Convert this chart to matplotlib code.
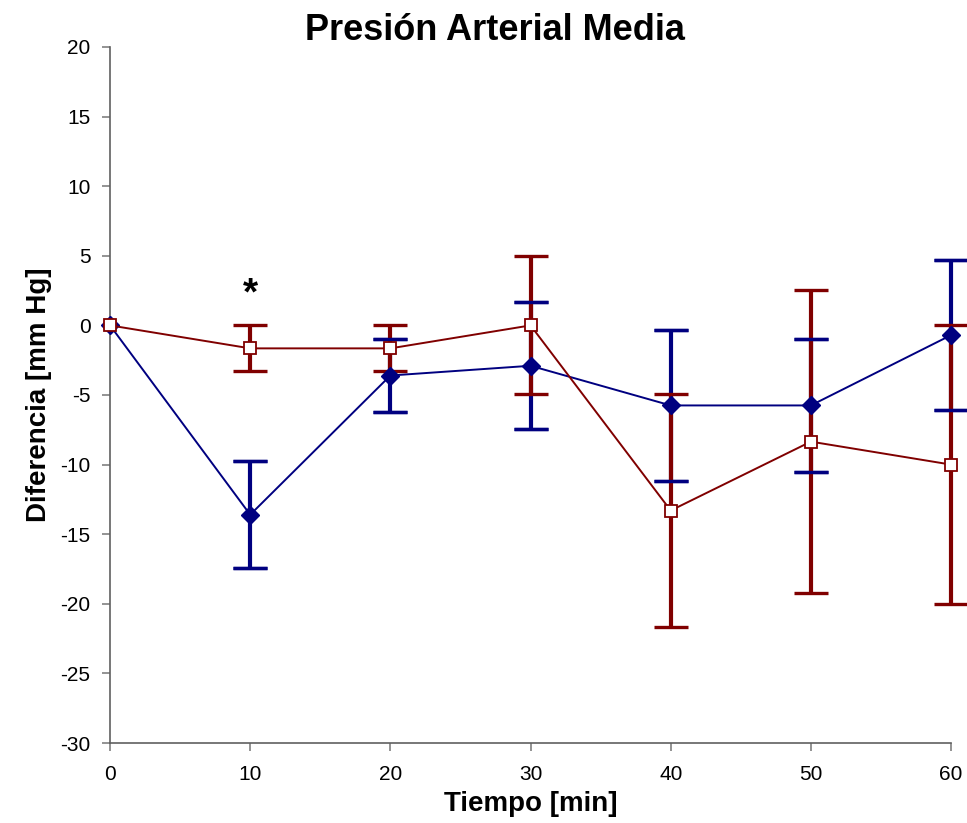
import matplotlib
matplotlib.use("Agg")
import matplotlib.pyplot as plt
import numpy as np

plt.rcParams['font.family'] = ['Liberation Sans', 'DejaVu Sans']
plt.rcParams['axes.unicode_minus'] = False

tiempo = [0, 10, 20, 30, 40, 50, 60]
serie_a = [0, -13.6, -3.6, -2.9, -5.75, -5.75, -0.7]
err_a = [0, 3.85, 2.6, 4.55, 5.4, 4.8, 5.4]
serie_b = [0, -1.65, -1.65, 0, -13.3, -8.35, -10.0]
err_b = [0, 1.65, 1.65, 4.95, 8.35, 10.9, 10.0]
yticks = list(range(-30, 21, 5))
xticks = [0, 10, 20, 30, 40, 50, 60]

navy = '#000080'
maroon = '#800000'

fig = plt.figure(figsize=(9.67, 8.23), dpi=100)
ax = fig.add_axes([0.1138, 0.0972, 0.9835 - 0.1138, 0.9429 - 0.0972])

def eb(x, y, e, color, lw, z):
    x = np.asarray(x, float)
    y = np.asarray(y, float)
    e = np.asarray(e, float)
    m = e > 0
    c = ax.errorbar(x[m], y[m], yerr=e[m], fmt='none', ecolor=color,
                    elinewidth=lw, capsize=12, capthick=2.4, zorder=z)
    for art in c.lines[1]:
        art.set_clip_on(False)
    for art in c.lines[2]:
        art.set_clip_on(False)
    return c

eb(tiempo, serie_a, err_a, navy, 3, 2)
eb(tiempo, serie_b, err_b, maroon, 3, 3)
eb(tiempo, serie_a, err_a, navy, 0, 4)

ax.plot(tiempo, serie_a, color=navy, lw=1.4, marker='D', ms=9,
        mfc=navy, mec=navy, zorder=5, clip_on=False)
ax.plot(tiempo, serie_b, color=maroon, lw=1.4, marker='s', ms=8,
        mfc='white', mec=maroon, mew=1.3, zorder=6, clip_on=False)

ax.text(10, 2.2, '*', ha='center', va='center', fontsize=28, fontweight='bold')

ax.set_xlim(0, 60)
ax.set_ylim(-30, 20)
ax.set_xticks(xticks)
ax.set_yticks(yticks)
ax.tick_params(axis='both', labelsize=15, direction='out', length=6, width=1.2, color='#808080')
ax.tick_params(axis='x', pad=10)
ax.tick_params(axis='y', pad=8)
ax.spines['top'].set_visible(False)
ax.spines['right'].set_visible(False)
ax.spines['left'].set_color('#606060')
ax.spines['bottom'].set_color('#606060')
ax.spines['left'].set_linewidth(1.2)
ax.spines['bottom'].set_linewidth(1.2)

fig.text(495 / 967, 1 - 30 / 823, 'Presión Arterial Media', ha='center', va='center',
         fontsize=26, fontweight='bold')
ax.set_xlabel('Tiempo [min]', fontsize=20, fontweight='bold', labelpad=5)
ax.set_ylabel('Diferencia [mm Hg]', fontsize=20, fontweight='bold', labelpad=6)

fig.savefig('out.png', dpi=100)
